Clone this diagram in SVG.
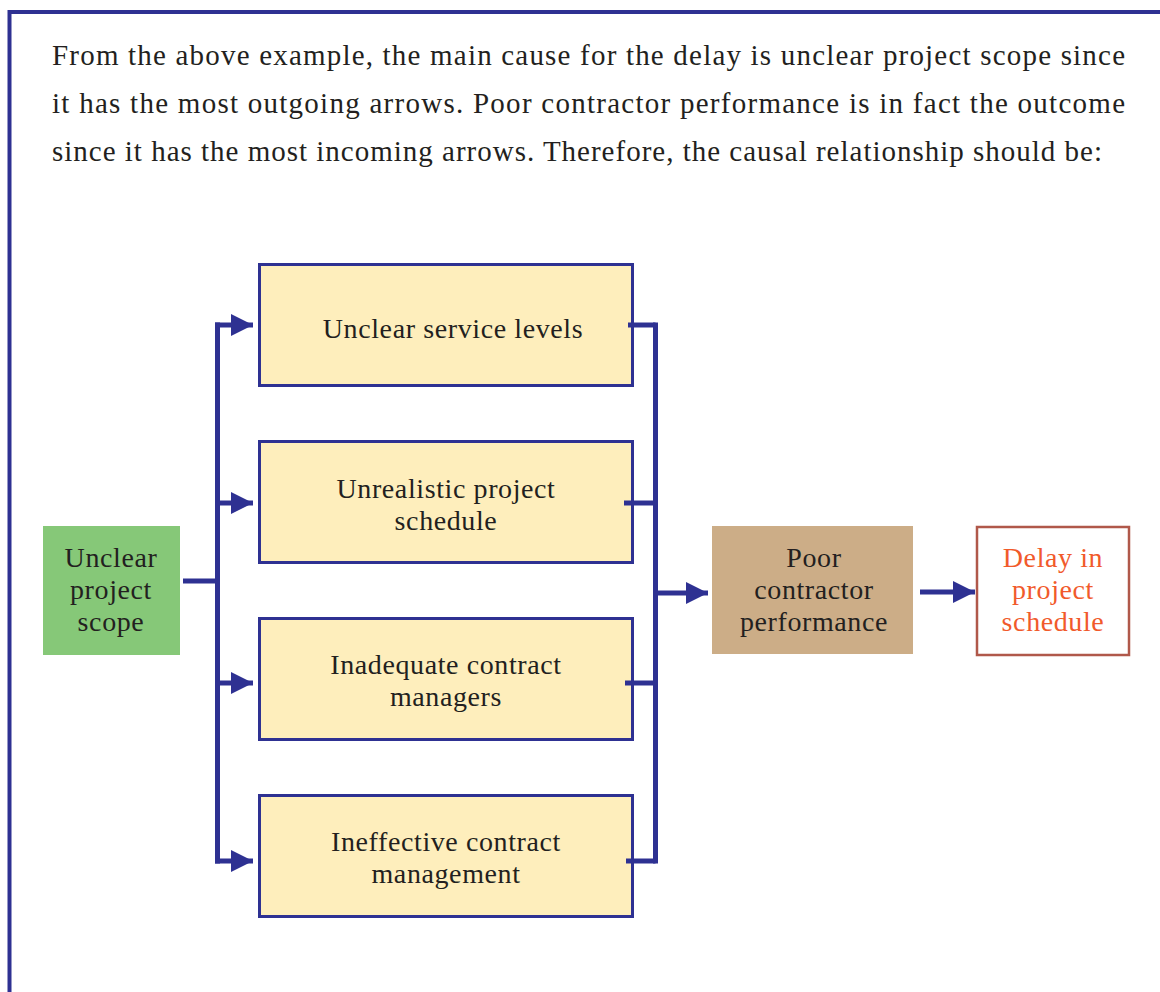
<svg xmlns="http://www.w3.org/2000/svg" width="1160" height="992" viewBox="0 0 1160 992">
  <defs>
    <style>
      .para { font-family: "Liberation Serif", "DejaVu Serif", serif; font-size: 29px; fill: #231f20; }
      .lbl { font-family: "Liberation Serif", "DejaVu Serif", serif; font-size: 28px; letter-spacing: 0.6px; fill: #231f20; text-anchor: middle; }
      .out { fill: #f15a2b; }
      .cause { fill: #feeebc; stroke: #2e3192; stroke-width: 3; }
      .wire { fill: none; stroke: #2e3192; stroke-width: 5; }
    </style>
    <marker id="head" viewBox="0 0 22 22" refX="22" refY="11" markerWidth="22" markerHeight="22" markerUnits="userSpaceOnUse" orient="auto">
      <path d="M0,0 L22,11 L0,22 Z" fill="#2e3192"/>
    </marker>
  </defs>
  <rect width="1160" height="992" fill="#ffffff"/>

  <!-- page frame -->
  <path d="M9.5,992 V12 H1160" fill="none" stroke="#2e3192" stroke-width="4"/>

  <!-- introductory paragraph -->
  <g id="intro">
    <text class="para" x="52" y="65" textLength="1073" lengthAdjust="spacing">From the above example, the main cause for the delay is unclear project scope since</text>
    <text class="para" x="52" y="113" textLength="1073" lengthAdjust="spacing">it has the most outgoing arrows. Poor contractor performance is in fact the outcome</text>
    <text class="para" x="52" y="161" textLength="1050" lengthAdjust="spacing">since it has the most incoming arrows. Therefore, the causal relationship should be:</text>
  </g>

  <g id="node-scope">
    <rect x="43" y="526" width="137" height="129" fill="#86c878"/>
    <text class="lbl" x="111" y="567">Unclear</text>
    <text class="lbl" x="111" y="599">project</text>
    <text class="lbl" x="111" y="631">scope</text>
  </g>

  <g id="node-service-levels">
    <rect class="cause" x="259.5" y="264.5" width="373" height="121"/>
    <text class="lbl" x="453" y="338">Unclear service levels</text>
  </g>

  <g id="node-schedule">
    <rect class="cause" x="259.5" y="441.5" width="373" height="121"/>
    <text class="lbl" x="446" y="498">Unrealistic project</text>
    <text class="lbl" x="446" y="530">schedule</text>
  </g>

  <g id="node-managers">
    <rect class="cause" x="259.5" y="618.5" width="373" height="121"/>
    <text class="lbl" x="446" y="674">Inadequate contract</text>
    <text class="lbl" x="446" y="706">managers</text>
  </g>

  <g id="node-management">
    <rect class="cause" x="259.5" y="795.5" width="373" height="121"/>
    <text class="lbl" x="446" y="851">Ineffective contract</text>
    <text class="lbl" x="446" y="883">management</text>
  </g>

  <g id="node-performance">
    <rect x="712" y="526" width="201" height="128" fill="#ccad87"/>
    <text class="lbl" x="814" y="567">Poor</text>
    <text class="lbl" x="814" y="599">contractor</text>
    <text class="lbl" x="814" y="631">performance</text>
  </g>

  <g id="node-delay">
    <rect x="977" y="527" width="152" height="128" fill="#ffffff" stroke="#b0584a" stroke-width="2.5"/>
    <text class="lbl out" x="1053" y="567">Delay in</text>
    <text class="lbl out" x="1053" y="599">project</text>
    <text class="lbl out" x="1053" y="631">schedule</text>
  </g>

  <!-- connectors, drawn over the box borders -->
  <g id="connectors">
    <!-- fan-out from the root cause -->
    <path class="wire" d="M183,581 H217.5"/>
    <path class="wire" d="M217.5,322.5 V863.5"/>
    <path class="wire" d="M215,325 H253" marker-end="url(#head)"/>
    <path class="wire" d="M217.5,503 H253" marker-end="url(#head)"/>
    <path class="wire" d="M217.5,683 H253" marker-end="url(#head)"/>
    <path class="wire" d="M215,861 H253" marker-end="url(#head)"/>
    <!-- fan-in to the outcome -->
    <path class="wire" d="M628,325 H655.5"/>
    <path class="wire" d="M624,503 H655.5"/>
    <path class="wire" d="M625,683 H655.5"/>
    <path class="wire" d="M626,861 H655.5"/>
    <path class="wire" d="M655.5,322.5 V863.5"/>
    <path class="wire" d="M655.5,593 H708" marker-end="url(#head)"/>
    <!-- outcome to delay -->
    <path class="wire" d="M920,592 H975" marker-end="url(#head)"/>
  </g>
</svg>
